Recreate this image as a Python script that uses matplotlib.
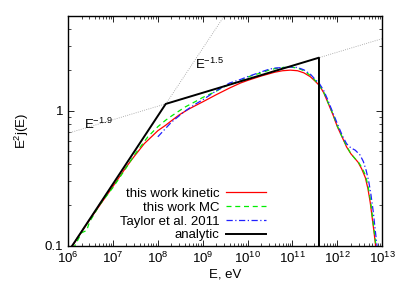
import matplotlib
matplotlib.use("Agg")
import matplotlib.pyplot as plt
from matplotlib.ticker import LogLocator, FixedLocator, FixedFormatter, NullFormatter

plt.rcParams['font.family'] = ['Liberation Sans', 'DejaVu Sans']
plt.rcParams['mathtext.fontset'] = 'custom'
plt.rcParams['mathtext.rm'] = 'Liberation Sans'
plt.rcParams['mathtext.it'] = 'Liberation Sans'
plt.rcParams['font.size'] = 9.5

# this work kinetic
kin_E = [1.25e6, 2e6, 3e6, 5e6, 1e7, 2e7, 3e7, 5e7, 1e8, 1.5e8, 2e8, 3e8, 5e8, 1e9,
         2e9, 4e9, 7e9, 1e10, 2e10, 4e10, 6e10, 9e10, 1.3e11, 1.8e11, 2.5e11, 3.2e11,
         4e11, 5e11, 6e11, 8e11, 1e12, 1.3e12, 1.6e12, 2e12, 2.5e12, 2.9e12, 3.5e12,
         4.2e12, 4.8e12, 5.4e12, 6e12, 6.6e12, 7.2e12]
kin_y = [0.1, 0.127, 0.155, 0.198, 0.275, 0.385, 0.46, 0.57, 0.71, 0.78, 0.84, 0.93,
         1.03, 1.16, 1.31, 1.47, 1.6, 1.67, 1.8, 1.92, 1.97, 1.99, 1.97, 1.9, 1.78, 1.65,
         1.53, 1.35, 1.17, 0.93, 0.76, 0.63, 0.54, 0.48, 0.44, 0.415, 0.37, 0.32, 0.265,
         0.21, 0.16, 0.125, 0.097]

# this work MC
mc_E = [1.3e6, 2e6, 2.6e6, 3e6, 5e6, 1e7, 2e7, 3e7, 6e7, 1e8, 1.5e8, 2e8, 4e8, 7e8,
        1e9, 2e9, 3e9, 4e9, 7e9, 1e10, 2e10, 3e10, 4e10, 6e10, 9e10, 1.3e11, 1.8e11,
        2.5e11, 3.2e11, 4e11, 5e11, 6e11, 8e11, 1e12, 1.3e12, 1.6e12, 2e12, 2.5e12,
        2.9e12, 3.5e12, 4.2e12, 4.8e12, 5.4e12, 6e12, 6.6e12, 7.4e12]
mc_y = [0.095, 0.125, 0.13, 0.15, 0.2, 0.27, 0.38, 0.47, 0.64, 0.76, 0.85, 0.91, 1.06,
        1.17, 1.25, 1.39, 1.5, 1.56, 1.66, 1.77, 1.9, 1.99, 2.04, 2.08, 2.1, 2.06, 1.97,
        1.82, 1.67, 1.54, 1.36, 1.18, 0.94, 0.77, 0.63, 0.55, 0.48, 0.44, 0.42, 0.38,
        0.335, 0.28, 0.225, 0.17, 0.13, 0.095]

# Taylor et al. 2011
tay_E = [1e8, 1.5e8, 2e8, 4e8, 7e8, 1e9, 2e9, 4e9, 7e9, 1e10, 2e10, 3e10, 4e10, 6e10,
         9e10, 1.3e11, 1.8e11, 2.5e11, 3.2e11, 4e11, 5e11, 6e11, 8e11, 1e12, 1.3e12,
         1.6e12, 2e12, 2.5e12, 3.2e12, 3.8e12, 4.4e12, 5e12, 5.6e12, 6.3e12, 7e12, 7.8e12]
tay_y = [0.64, 0.74, 0.82, 0.99, 1.12, 1.2, 1.4, 1.6, 1.7, 1.78, 1.93, 2.02, 2.06, 2.08,
         2.1, 2.08, 2.0, 1.86, 1.7, 1.58, 1.4, 1.22, 0.96, 0.8, 0.65, 0.57, 0.53, 0.51,
         0.47, 0.42, 0.36, 0.3, 0.24, 0.18, 0.13, 0.095]

# analytic broken power law
ana_E = [1.23e6, 1.5e8, 3.9e11, 3.9e11]
ana_y = [0.1, 1.12, 2.46, 0.09]

# guide lines E^-1.5 and E^-1.9 (in E^2 j)
g15_E = [1e6, 1e10]
g15_y = [0.0914, 9.1]
g19_E = [1e6, 1e13]
g19_y = [0.68, 3.40]

x_ticks = [1e6, 1e7, 1e8, 1e9, 1e10, 1e11, 1e12, 1e13]
x_labels = ['$10^{6}$', '$10^{7}$', '$10^{8}$', '$10^{9}$', '$10^{10}$', '$10^{11}$',
            '$10^{12}$', '$10^{13}$']

fig = plt.figure(figsize=(4.15, 2.91), dpi=100)
ax = fig.add_axes([0.164, 0.155, 0.757, 0.79])

ax.plot(g15_E, g15_y, color='#999999', lw=0.6, ls=':')
ax.plot(g19_E, g19_y, color='#999999', lw=0.6, ls=':')

ax.plot(kin_E, kin_y, color='#ff0000', lw=0.9, label='this work kinetic')
ax.plot(mc_E, mc_y, color='#00ee00', lw=0.9, ls=(0, (4, 3)), label='this work MC')
ax.plot(tay_E, tay_y, color='#2020ff', lw=0.9, ls=(0, (5, 2, 1, 2)), label='Taylor et al. 2011')
ax.plot(ana_E, ana_y, color='black', lw=1.4, label='analytic')

ax.text(6.9e8, 2.18, 'E$^{-1.5}$', ha='left', va='center')
ax.text(2.27e6, 0.79, 'E$^{-1.9}$', ha='left', va='center')

ax.set_xscale('log')
ax.set_yscale('log')
ax.set_xlim(1e6, 1e13)
ax.set_ylim(0.1, 5.0)

ax.xaxis.set_major_locator(FixedLocator(x_ticks))
ax.xaxis.set_major_formatter(FixedFormatter(x_labels))
ax.xaxis.set_minor_locator(LogLocator(base=10, subs=range(2, 10), numticks=20))
ax.xaxis.set_minor_formatter(NullFormatter())
ax.yaxis.set_major_locator(FixedLocator([0.1, 1]))
ax.yaxis.set_major_formatter(FixedFormatter(['0.1', '1']))
ax.yaxis.set_minor_locator(LogLocator(base=10, subs=range(2, 10), numticks=20))
ax.yaxis.set_minor_formatter(NullFormatter())

ax.tick_params(which='both', direction='in', top=True, right=True)
ax.tick_params(which='major', length=4, width=0.6)
ax.tick_params(which='minor', length=2, width=0.5)
for s in ax.spines.values():
    s.set_linewidth(1.0)

ax.set_xlabel('E, eV', labelpad=2)
ax.set_ylabel('E$^2$j(E)', labelpad=10)

ax.legend(loc='lower right', bbox_to_anchor=(0.655, -0.015), frameon=False,
          markerfirst=False, handlelength=3.0, labelspacing=0.12, handletextpad=0.5,
          borderaxespad=0.2)

plt.savefig('out.png', dpi=100)
